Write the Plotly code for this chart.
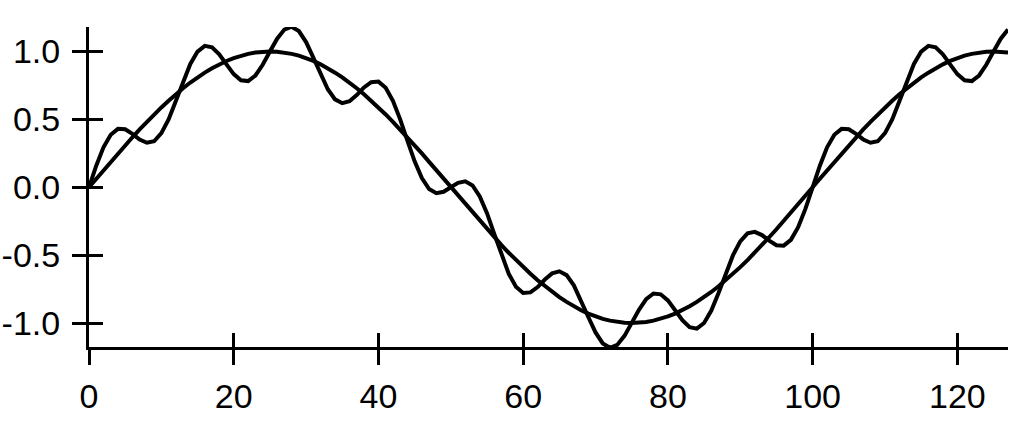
import plotly.graph_objects as go

x_vals = list(range(128))

smooth = [
    0.000, 0.063, 0.125, 0.187, 0.249, 0.309, 0.368, 0.426, 0.482, 0.536,
    0.588, 0.637, 0.685, 0.729, 0.771, 0.809, 0.844, 0.876, 0.905, 0.930,
    0.951, 0.969, 0.982, 0.992, 0.998, 1.000,
    0.998, 0.992, 0.982, 0.969, 0.951, 0.930, 0.905, 0.876, 0.844, 0.809,
    0.771, 0.729, 0.685, 0.637, 0.588, 0.536, 0.482, 0.426, 0.368, 0.309,
    0.249, 0.187, 0.125, 0.063, 0.000,
    -0.063, -0.125, -0.187, -0.249, -0.309, -0.368, -0.426, -0.482, -0.536, -0.588,
    -0.637, -0.685, -0.729, -0.771, -0.809, -0.844, -0.876, -0.905, -0.930, -0.951,
    -0.969, -0.982, -0.992, -0.998, -1.000,
    -0.998, -0.992, -0.982, -0.969, -0.951, -0.930, -0.905, -0.876, -0.844, -0.809,
    -0.771, -0.729, -0.685, -0.637, -0.588, -0.536, -0.482, -0.426, -0.368, -0.309,
    -0.249, -0.187, -0.125, -0.063, 0.000,
    0.063, 0.125, 0.187, 0.249, 0.309, 0.368, 0.426, 0.482, 0.536, 0.588,
    0.637, 0.685, 0.729, 0.771, 0.809, 0.844, 0.876, 0.905, 0.930, 0.951,
    0.969, 0.982, 0.992, 0.998, 1.000, 0.998, 0.992,
]

wavy = [
    0.000, 0.159, 0.294, 0.387, 0.430, 0.427, 0.393, 0.352, 0.328, 0.339,
    0.398, 0.500, 0.635, 0.779, 0.908, 0.999, 1.041, 1.030, 0.979, 0.905,
    0.833, 0.788, 0.782, 0.823, 0.902,
    1.000, 1.094, 1.161, 1.182, 1.150, 1.069, 0.955, 0.831, 0.722, 0.647,
    0.619, 0.634, 0.679, 0.735, 0.774, 0.778, 0.733, 0.636, 0.500, 0.343,
    0.191, 0.068, -0.013, -0.044, -0.033,
    0.000, 0.033, 0.044, 0.013, -0.068, -0.191, -0.343, -0.500, -0.636, -0.733,
    -0.778, -0.774, -0.735, -0.679, -0.634, -0.619, -0.647, -0.722, -0.831, -0.955,
    -1.069, -1.150, -1.182, -1.161, -1.094,
    -1.000, -0.902, -0.823, -0.782, -0.788, -0.833, -0.905, -0.979, -1.030, -1.041,
    -0.999, -0.908, -0.779, -0.635, -0.500, -0.398, -0.339, -0.328, -0.352, -0.393,
    -0.427, -0.430, -0.387, -0.294, -0.159,
    0.000, 0.159, 0.294, 0.387, 0.430, 0.427, 0.393, 0.352, 0.328, 0.339,
    0.398, 0.500, 0.635, 0.779, 0.908, 0.999, 1.041, 1.030, 0.979, 0.905,
    0.833, 0.788, 0.782, 0.823, 0.902,
    1.000, 1.094, 1.161,
]

x_ticks = [0, 20, 40, 60, 80, 100, 120]
y_ticks = [-1.0, -0.5, 0.0, 0.5, 1.0]
y_tick_text = ["-1.0", "-0.5", "0.0", "0.5", "1.0"]

x_range = [0, 127]
y_range = [-1.176, 1.18]

fig = go.Figure()
fig.add_trace(go.Scatter(x=x_vals, y=smooth, mode="lines",
                         line=dict(color="black", width=4), showlegend=False))
fig.add_trace(go.Scatter(x=x_vals, y=wavy, mode="lines",
                         line=dict(color="black", width=4), showlegend=False))
fig.add_trace(go.Scatter(x=[], y=[], xaxis="x2", yaxis="y2", showlegend=False))

font = dict(family="Liberation Sans, Arial, Helvetica, sans-serif", size=34, color="black")

fig.update_layout(
    width=1023, height=423,
    margin=dict(l=89, r=15, t=27, b=76),
    paper_bgcolor="white", plot_bgcolor="white",
    font=font,
    hovermode=False,
    xaxis=dict(range=x_range, tickvals=x_ticks, ticks="outside", ticklen=15,
               tickwidth=3, tickcolor="black", showline=True, linewidth=3,
               linecolor="black", showgrid=False, zeroline=False,
               tickfont=font, ticklabelstandoff=2, automargin=False),
    yaxis=dict(range=y_range, tickvals=y_ticks, ticktext=y_tick_text,
               ticks="outside", ticklen=14, tickwidth=3, tickcolor="black",
               showline=True, linewidth=3, linecolor="black", showgrid=False,
               zeroline=False, tickfont=font, ticklabelstandoff=5,
               automargin=False),
    xaxis2=dict(range=x_range, tickvals=x_ticks, ticks="inside", ticklen=14,
                tickwidth=3, tickcolor="black", showticklabels=False,
                showline=False, showgrid=False, zeroline=False,
                overlaying="x", anchor="y2", automargin=False),
    yaxis2=dict(range=y_range, tickvals=y_ticks, ticks="inside", ticklen=14,
                tickwidth=3, tickcolor="black", showticklabels=False,
                showline=False, showgrid=False, zeroline=False,
                overlaying="y", anchor="x2", side="left", automargin=False),
)

fig.write_html("out.html",
               config={"displayModeBar": False, "staticPlot": True},
               post_script="document.body.style.margin='0px';document.body.style.overflow='hidden';")
